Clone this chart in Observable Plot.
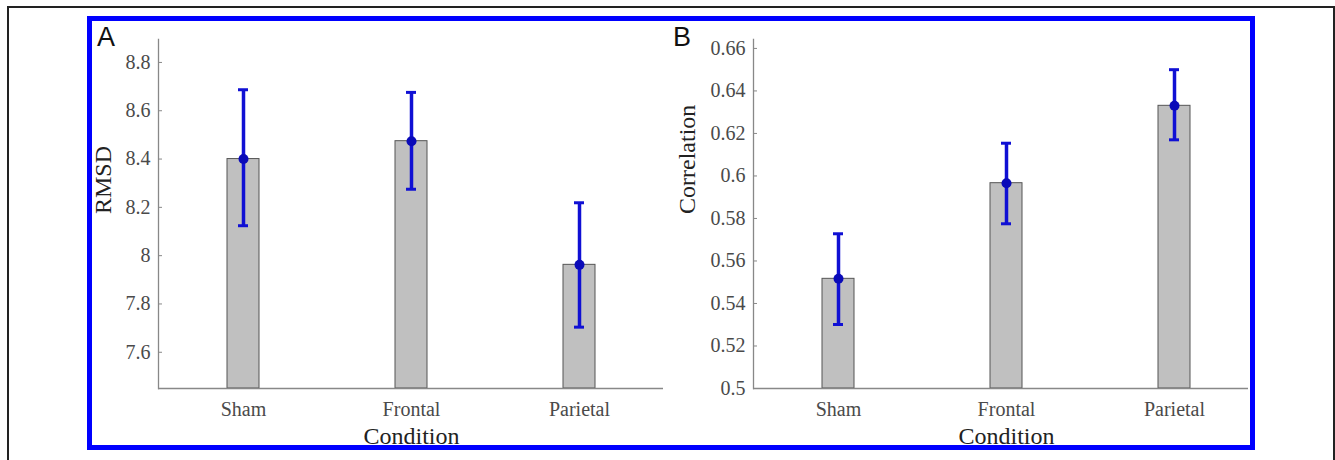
<!DOCTYPE html>
<html><head><meta charset="utf-8">
<script src="https://cdn.jsdelivr.net/npm/d3@7"></script>
<script src="https://cdn.jsdelivr.net/npm/@observablehq/plot@0.6"></script>
<style>
html,body{margin:0;padding:0;background:#fff;}
#wrap{position:relative;width:1335px;height:460px;overflow:hidden;background:#fff;}
#black{position:absolute;left:7px;top:6px;width:1328px;height:480px;border:2px solid #222;box-sizing:border-box;}
#blue{position:absolute;left:87px;top:16px;width:1168px;height:434px;border:5px solid #0000ff;box-sizing:border-box;z-index:5;}
.panel{position:absolute;top:0;}
.letter{position:absolute;font-family:"Liberation Sans",Arial,sans-serif;font-size:27px;line-height:1;color:#111;z-index:6;}
</style></head>
<body>
<div id="wrap">
  <div id="black"></div>
  <div id="pA" class="panel" style="left:0px"></div>
  <div id="pB" class="panel" style="left:600px"></div>
  <div id="blue"></div>
  <div class="letter" style="left:97px;top:24px">A</div>
  <div class="letter" style="left:673px;top:24px">B</div>
</div>
<script>
const categories = ["Sham", "Frontal", "Parietal"];
const rmsdMean = [8.40, 8.474, 7.962];
const rmsdLow  = [8.124, 8.275, 7.704];
const rmsdHigh = [8.687, 8.676, 8.219];
const corrMean = [0.5516, 0.5966, 0.633];
const corrLow  = [0.5301, 0.5775, 0.617];
const corrHigh = [0.5728, 0.6154, 0.650];
const rmsdTicks = [7.6, 7.8, 8, 8.2, 8.4, 8.6, 8.8];
const corrTicks = [0.5, 0.52, 0.54, 0.56, 0.58, 0.6, 0.62, 0.64, 0.66];
const xTitle = "Condition";

const serif = "'Liberation Serif','Times New Roman',serif";
const errBlue = "#1010d4";
const dotBlue = "#0a0ab8";
const tickColor = "#4a4a4a";

function panel({mean, low, high, ticks, domain, yLabel, width, marginLeft, marginRight, xRange, labelDx}) {
  const data = categories.map((c, i) => ({c, m: mean[i], lo: low[i], hi: high[i], base: domain[0]}));
  return Plot.plot({
    width, height: 460,
    marginLeft, marginRight, marginTop: 39, marginBottom: 72,
    style: {background: "transparent", fontFamily: serif, fontSize: "20px", color: "#444", overflow: "visible"},
    x: {domain: categories, range: xRange, paddingInner: 0.81, paddingOuter: 0.405, axis: null},
    y: {domain, axis: null},
    marks: [
      Plot.barY(data, {x: "c", y1: "base", y2: "m", fill: "#c0c0c0", stroke: "#555", strokeWidth: 1}),
      Plot.ruleY([domain[0]], {stroke: "#888", strokeWidth: 1.3}),
      Plot.frame({anchor: "left", stroke: "#888", strokeWidth: 1.3}),
      Plot.axisY({ticks, tickSize: -4, stroke: "#888", tickFormat: () => "", label: null}),
      Plot.text(ticks, {y: d => d, text: d => String(d), frameAnchor: "left", dx: -8, textAnchor: "end", fontFamily: serif, fontSize: 20, fill: tickColor}),
      Plot.text(categories, {x: d => d, text: d => d, frameAnchor: "bottom", dy: 13, lineAnchor: "top", fontFamily: serif, fontSize: 20, fill: tickColor}),
      Plot.ruleX(data, {x: "c", y1: "lo", y2: "hi", stroke: errBlue, strokeWidth: 3.5}),
      Plot.tickY(data, {x: "c", y: "hi", stroke: errBlue, strokeWidth: 3, insetLeft: 11, insetRight: 11}),
      Plot.tickY(data, {x: "c", y: "lo", stroke: errBlue, strokeWidth: 3, insetLeft: 11, insetRight: 11}),
      Plot.dot(data, {x: "c", y: "m", r: 5, fill: dotBlue, stroke: "none"}),
      Plot.text([yLabel], {frameAnchor: "left", dx: labelDx, rotate: -90, fontSize: 24, fontFamily: serif, fill: "#222"}),
      Plot.text([xTitle], {x: () => categories[1], frameAnchor: "bottom", dy: 55, lineAnchor: "bottom", fontSize: 24, fontFamily: serif, fill: "#222"})
    ]
  });
}

document.getElementById("pA").append(panel({
  mean: rmsdMean, low: rmsdLow, high: rmsdHigh, ticks: rmsdTicks, domain: [7.45, 8.895],
  yLabel: "RMSD", width: 670, marginLeft: 158, marginRight: 7, xRange: [158, 663], labelDx: -55
}));
document.getElementById("pB").append(panel({
  mean: corrMean, low: corrLow, high: corrHigh, ticks: corrTicks, domain: [0.5, 0.6642],
  yLabel: "Correlation", width: 735, marginLeft: 153, marginRight: 87, xRange: [153, 658], labelDx: -66
}));
</script>
</body></html>
